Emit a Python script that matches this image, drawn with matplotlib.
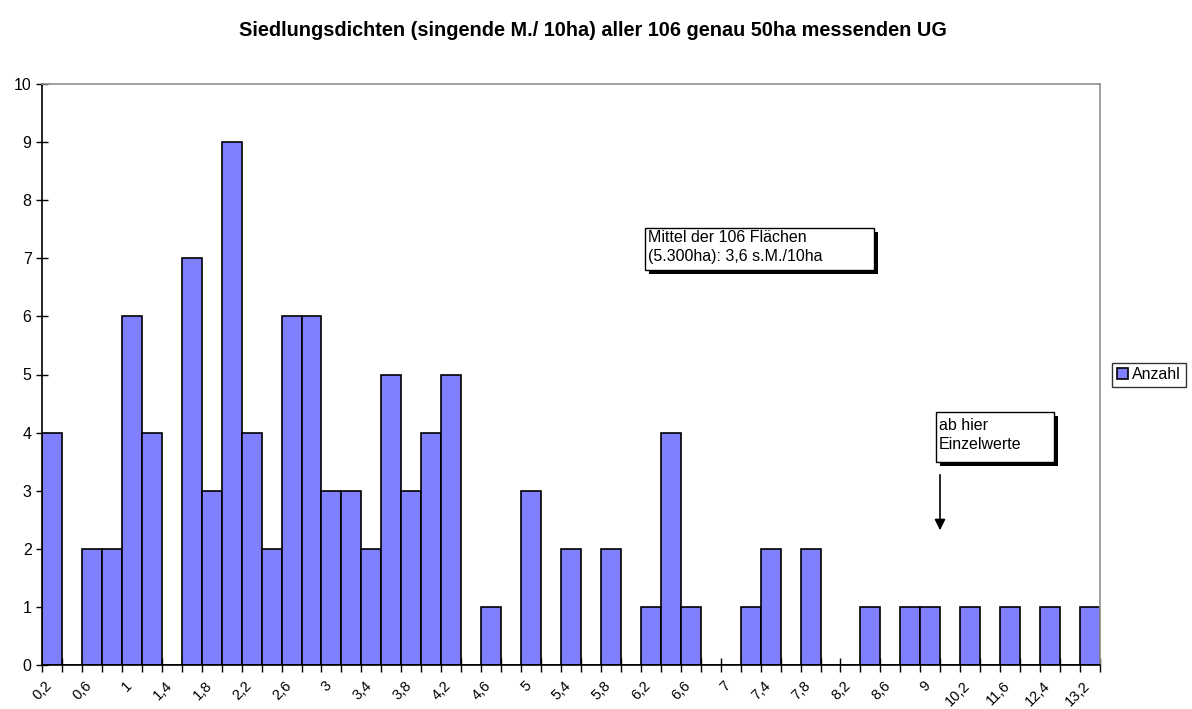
import matplotlib
matplotlib.use("Agg")
import matplotlib.pyplot as plt
import matplotlib.transforms as mtransforms
from matplotlib.patches import Rectangle
from matplotlib import font_manager
import numpy as np

plt.rcParams['font.family'] = ['Liberation Sans', 'DejaVu Sans']

# Siedlungsdichte-Klassen (s.M./10ha); leere Strings = Platzhalter ohne Beschriftung
klassen = ["0,2", "0,4", "0,6", "0,8", "1", "1,2", "1,4", "1,6", "1,8", "2",
           "2,2", "2,4", "2,6", "2,8", "3", "3,2", "3,4", "3,6", "3,8", "4",
           "4,2", "4,4", "4,6", "4,8", "5", "5,2", "5,4", "5,6", "5,8", "6",
           "6,2", "6,4", "6,6", "6,8", "7", "7,2", "7,4", "7,6", "7,8", "8",
           "8,2", "8,4", "8,6", "8,8", "9", "", "10,2", "", "11,6", "",
           "12,4", "", "13,2"]
anzahl = [4, 0, 2, 2, 6, 4, 0, 7, 3, 9,
          4, 2, 6, 6, 3, 3, 2, 5, 3, 4,
          5, 0, 1, 0, 3, 0, 2, 0, 2, 0,
          1, 4, 1, 0, 0, 1, 2, 0, 2, 0,
          0, 1, 0, 1, 1, 0, 1, 0, 1, 0,
          1, 0, 1]

titel = "Siedlungsdichten (singende M./ 10ha) aller 106 genau 50ha messenden UG"
notiz_mittel = "Mittel der 106 Flächen\n(5.300ha): 3,6 s.M./10ha"
notiz_einzel = "ab hier\nEinzelwerte"

W, H = 1192, 709
fig = plt.figure(figsize=(W / 100, H / 100), dpi=100)
ax = fig.add_axes([42 / W, 1 - 665 / H, 1058 / W, 581 / H])

x = np.arange(len(klassen))
ax.bar(x, anzahl, width=1.0, color="#8080ff", edgecolor="black", linewidth=1.2,
       label="Anzahl", zorder=2)

ax.set_xlim(-0.5, len(klassen) - 0.5)
ax.set_ylim(0, 10)
ax.set_yticks(range(0, 11))
ax.tick_params(axis="y", direction="inout", length=9, width=1, labelsize=11.5, pad=3)

# Beschriftung jede zweite Klasse, Striche an den Klassengrenzen
ax.set_xticks(x[::2])
ax.set_xticklabels(klassen[::2], rotation=45, ha="right", rotation_mode="anchor", fontsize=10.5)
ax.tick_params(axis="x", which="major", length=0, pad=10)
shift = mtransforms.ScaledTranslation(-7 / 100, 0, fig.dpi_scale_trans)
for lab in ax.get_xticklabels():
    lab.set_transform(lab.get_transform() + shift)
ax.set_xticks(np.arange(-0.5, len(klassen)), minor=True)
ax.tick_params(axis="x", which="minor", direction="inout", length=10, width=1)

for s in ["top", "right"]:
    ax.spines[s].set_color("#909090")
    ax.spines[s].set_linewidth(1.2)
for s in ["left", "bottom"]:
    ax.spines[s].set_color("black")
    ax.spines[s].set_linewidth(1.2)

narrow = [f for f in font_manager.get_font_names() if f == "Liberation Sans Narrow"]
if narrow:
    fig.text(593 / W, 1 - 30 / H, titel, ha="center", va="center",
             fontsize=15, fontweight="bold", family="Liberation Sans Narrow")
else:
    fig.text(593 / W, 1 - 30 / H, titel, ha="center", va="center",
             fontsize=14.3, fontweight="bold")


def notiz(x0, y0, x1, y1, text, ls):
    # Kasten mit Schatten in Pixelkoordinaten (oben links = 0,0)
    fig.patches.append(Rectangle(((x0 + 4) / W, 1 - (y1 + 4) / H), (x1 - x0) / W, (y1 - y0) / H,
                                 transform=fig.transFigure, fc="black", ec="none"))
    fig.patches.append(Rectangle((x0 / W, 1 - y1 / H), (x1 - x0) / W, (y1 - y0) / H,
                                 transform=fig.transFigure, fc="white", ec="black", lw=1))
    fig.text((x0 + 3) / W, 1 - ((y0 + y1) / 2 - 2) / H, text, ha="left", va="center",
             fontsize=11.5, linespacing=ls)


notiz(645, 228, 874, 270, notiz_mittel, 1.25)
notiz(936, 412, 1054, 462, notiz_einzel, 1.35)

ax.annotate("", xy=(940 / W, 1 - 533 / H), xytext=(940 / W, 1 - 472 / H),
            xycoords="figure fraction", textcoords="figure fraction",
            arrowprops=dict(arrowstyle="-|>", color="black", lw=1.2, mutation_scale=16))

leg = fig.legend(loc="center left", bbox_to_anchor=(1112 / W, 1 - 375 / H),
                 fontsize=11.5, frameon=True, fancybox=False, handlelength=0.7,
                 handleheight=0.7, handletextpad=0.25, borderpad=0.3, borderaxespad=0)
leg.get_frame().set_edgecolor("black")
leg.get_frame().set_linewidth(1)

fig.savefig("out.png", dpi=100)
